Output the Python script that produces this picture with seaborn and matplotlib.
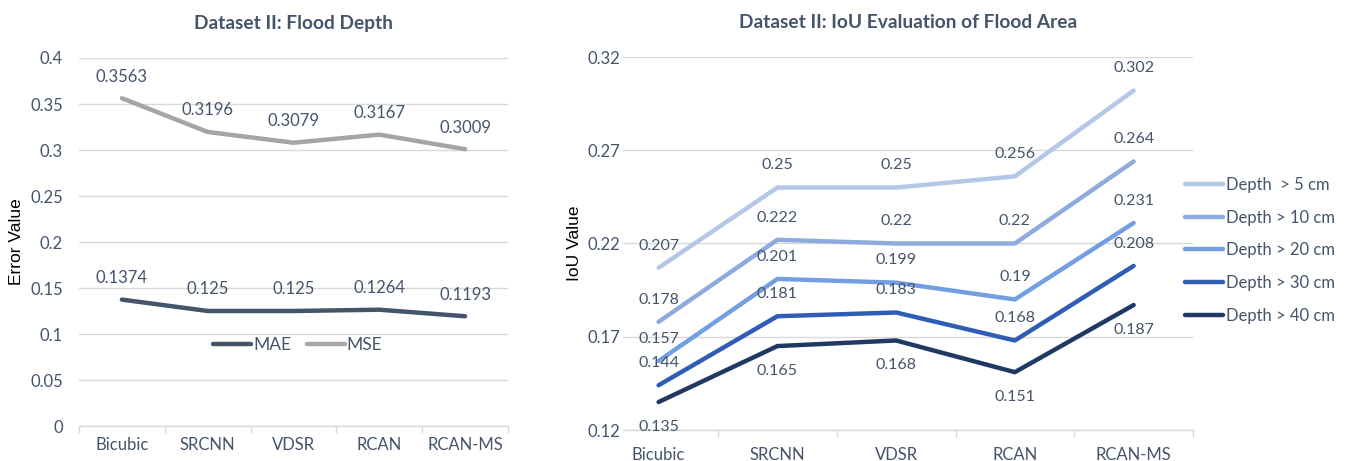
import matplotlib
matplotlib.use("Agg")
import matplotlib.pyplot as plt
import seaborn as sns
import pandas as pd
from matplotlib.ticker import FixedLocator

# ---- data -------------------------------------------------------------
methods = ["Bicubic", "SRCNN", "VDSR", "RCAN", "RCAN-MS"]

mae = [0.1374, 0.125, 0.125, 0.1264, 0.1193]
mse = [0.3563, 0.3196, 0.3079, 0.3167, 0.3009]

depth_labels = ["Depth  > 5 cm", "Depth > 10 cm", "Depth > 20 cm",
                "Depth > 30 cm", "Depth > 40 cm"]
iou_5 = [0.207, 0.25, 0.25, 0.256, 0.302]
iou_10 = [0.178, 0.222, 0.22, 0.22, 0.264]
iou_20 = [0.157, 0.201, 0.199, 0.19, 0.231]
iou_30 = [0.144, 0.181, 0.183, 0.168, 0.208]
iou_40 = [0.135, 0.165, 0.168, 0.151, 0.187]

error_ticks = [0, 0.05, 0.1, 0.15, 0.2, 0.25, 0.3, 0.35, 0.4]
iou_ticks = [0.12, 0.17, 0.22, 0.27, 0.32]

# ---- style ------------------------------------------------------------
sns.set_theme(style="white")
plt.rcParams["font.family"] = ["Lato", "DejaVu Sans"]
TEXT = "#44546A"
GRID = "#D9D9D9"

err_df = pd.DataFrame({
    "method": methods * 2,
    "value": mae + mse,
    "metric": ["MAE"] * len(methods) + ["MSE"] * len(methods),
})
iou_series = [iou_5, iou_10, iou_20, iou_30, iou_40]
iou_df = pd.DataFrame({
    "method": methods * len(depth_labels),
    "value": [v for s in iou_series for v in s],
    "depth": [d for d in depth_labels for _ in methods],
})

err_colors = {"MAE": "#44546A", "MSE": "#A5A5A5"}
iou_colors = dict(zip(depth_labels,
                      ["#B4C7E7", "#8FAADC", "#739FE2", "#2F5CB4", "#1F3864"]))

W, H = 1349, 461
fig = plt.figure(figsize=(W / 100, H / 100), dpi=100)


def px_axes(left, right, top, bottom):
    return fig.add_axes([left / W, 1 - bottom / H, (right - left) / W, (bottom - top) / H])


ax1 = px_axes(79, 508, 58, 426)
ax2 = px_axes(623, 1193, 57, 430)


def style_axes(ax, ticks, xlim, ylabel, label_x, title, ypad, xpad):
    ax.set_xlim(*xlim)
    ax.set_ylim(ticks[0], ticks[-1])
    ax.set_yticks(ticks)
    ax.set_yticklabels([f"{t:g}" for t in ticks])
    ax.yaxis.grid(True, color=GRID, lw=1)
    ax.xaxis.grid(False)
    for s in ["top", "right", "left"]:
        ax.spines[s].set_visible(False)
    ax.spines["bottom"].set_color(GRID)
    ax.spines["bottom"].set_linewidth(1)
    ax.xaxis.set_minor_locator(FixedLocator([i + 0.5 for i in range(-1, len(methods))]))
    ax.tick_params(axis="x", which="major", length=0, pad=xpad,
                   labelsize=12, labelcolor=TEXT)
    ax.tick_params(axis="x", which="minor", bottom=True, length=5,
                   color=GRID, width=1)
    ax.tick_params(axis="y", length=0, pad=ypad, labelsize=12, labelcolor=TEXT)
    ax.set_xlabel("")
    ax.set_ylabel(ylabel, fontsize=12.5, color="black",
                  family=["Liberation Sans", "DejaVu Sans"])
    ax.yaxis.set_label_coords(label_x, 0.5)
    ax.set_title(title, fontsize=13.8, fontweight="bold", color=TEXT, pad=21)


# ---- left: error values -------------------------------------------------
sns.lineplot(data=err_df, x="method", y="value", hue="metric",
             palette=err_colors, lw=3.2, sort=False, ax=ax1)
style_axes(ax1, error_ticks, (-0.5, 4.5), "Error Value", -0.128,
           "Dataset II: Flood Depth", ypad=11.5, xpad=8)
for series in (mae, mse):
    for i, v in enumerate(series):
        ax1.annotate(f"{v:g}", (i, v), xytext=(0, 15.5), textcoords="offset points",
                     ha="center", va="center", fontsize=12, color=TEXT)
leg1 = ax1.legend(loc="center", bbox_to_anchor=(0.51, 0.219), ncol=2, frameon=False,
                  handlelength=2.2, handletextpad=0.1, columnspacing=0.9,
                  fontsize=12.5, borderpad=0)
for t in leg1.get_texts():
    t.set_color(TEXT)

# ---- right: IoU values --------------------------------------------------
sns.lineplot(data=iou_df, x="method", y="value", hue="depth",
             palette=iou_colors, lw=3.2, sort=False, ax=ax2)
style_axes(ax2, iou_ticks, (-0.3, 4.5), "IoU Value", -0.072,
           "Dataset II: IoU Evaluation of Flood Area", ypad=2, xpad=12)
for label, series in zip(depth_labels, iou_series):
    dy = -18 if label == depth_labels[-1] else 16
    for i, v in enumerate(series):
        ax2.annotate(f"{v:g}", (i, v), xytext=(0, dy), textcoords="offset points",
                     ha="center", va="center", fontsize=11.5, color=TEXT)
leg2 = ax2.legend(loc="upper left", bbox_to_anchor=(1185 / W, 1 - 177 / H),
                  bbox_transform=fig.transFigure, frameon=False,
                  handlelength=2.3, handletextpad=0.15, labelspacing=1.0,
                  fontsize=12, borderpad=0, borderaxespad=0)
for t in leg2.get_texts():
    t.set_color(TEXT)

fig.savefig("out.png", dpi=100)
